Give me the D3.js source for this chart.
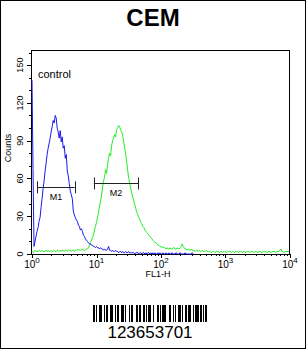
<!DOCTYPE html>
<html>
<head>
<meta charset="utf-8">
<script src="https://cdn.jsdelivr.net/npm/d3@7"></script>
<style>
  body { margin: 0; background: #fff; }
  svg { display: block; font-family: "Liberation Sans", Arial, sans-serif; }
</style>
</head>
<body>
<div id="chart"></div>
<script>
// channel counts, 64 channels per decade, channel 0 = 10^0
var blueCounts = [138,68,6,10,14,18,21,26,29,37,
  44,52,58,66,72,79,84,88,92,97,
  101,106,104,110,108,100,97,92,98,89,
  93,84,86,76,79,66,62,56,50,47,
  44,34,31,29,27,26,23,22,19,20,
  18,15,14,12,11,10,9,8,8,7,
  7,6,6,5,6,5,5,4,5,4,
  4,3,4,3,3,4,6,3,3,2,
  3,2,2,3,2,2,1,2,2,1,
  2,1,1,2,1,1,2,1,1,1,
  1,1,0,1,1,1,0,1,1,0,
  1,1,0,1,0,1,1,0,1,0,
  1,0,1,0,0,1,0,1,0,0,
  1,0,0,1,0,0,1,0,0,1,
  0,0,0,1,0,0,0,1,0,0,
  0,0,1,0,0,0,0,0,0,1,
  0];

var greenCounts = [2,1,2,3,2,2,2,3,2,2,
  3,2,2,2,3,2,3,2,2,3,
  2,2,3,2,2,3,3,2,3,2,
  3,3,2,3,3,2,3,3,3,2,
  3,3,2,3,3,3,4,3,3,3,
  4,3,3,
  3,4,4,5,
  7,9,11,13,15,19,22,25,29,33,
  38,42,47,53,58,61,67,64,71,76,
  80,78,86,90,92,95,93,99,100,102,
  101,98,97,94,89,84,79,73,66,60,
  56,52,48,45,42,39,36,33,31,29,
  27,25,24,22,21,
  19,18,17,16,15,14,13,
  12,11,10,9,9,8,7,
  7,6,6,5,6,5,5,4,5,4,4,5,4,4,5,
  5,4,4,5,4,4,5,6,8,6,5,4,4,3,4,
  3,3,4,3,3,3,2,3,3,2,3,2,2,3,2,2,2,3,2,2,
  2,2,1,2,2,2,1,2,2,2,
  1,2,2,1,2,2,2,1,2,2,
  2,2,1,2,2,1,2,2,2,1,
  2,2,2,1,2,2,1,2,2,2,
  1,2,2,2,1,2,2,2,1,2,
  2,2,1,2,2,2,2,1,2,2,
  2,1,2,2,2,2,1,2,2,2,
  3,4,2,2,1,2,2,2,2,2];

var yTicks = [0, 30, 60, 90, 120, 150];
var xTicks = [1, 10, 100, 1000, 10000];
var markerNames = ["M1", "M2"];
var markerLo = [1.2, 9.1];
var markerHi = [4.6, 44];
var markerY = [53, 56];
var barcodeDigits = "123653701";
var barcodeModules = "110100111001011001110010110011101000101100011011001101011100100011010111100011001010011101001101110010111101101011";

var W = 306, H = 349;
var plot = {left: 32, right: 290, top: 50, bottom: 254};

var svg = d3.select("#chart").append("svg")
  .attr("width", W).attr("height", H);

svg.append("rect")
  .attr("x", 0.5).attr("y", 0.5)
  .attr("width", W - 1).attr("height", H - 1)
  .attr("fill", "#fff").attr("stroke", "#000");

// title
svg.append("text")
  .attr("x", 153).attr("y", 26)
  .attr("text-anchor", "middle")
  .attr("font-size", 24).attr("font-weight", "bold")
  .text("CEM");

var x = d3.scaleLog().domain([1, 10000]).range([plot.left, plot.right]);
var y = d3.scaleLinear().domain([0, 162]).range([plot.bottom, plot.top]);

function chan(i){ return Math.pow(10, i / 64); }

//frame
svg.append("rect")
  .attr("x", plot.left - 0.5).attr("y", plot.top + 0.5)
  .attr("width", plot.right - plot.left).attr("height", plot.bottom - plot.top)
  .attr("fill", "none").attr("stroke", "#000");

// y axis ticks
var yMinor = d3.range(0, 161, 10);
svg.append("g").selectAll("line").data(yMinor).enter().append("line")
  .attr("x1", function(d){ return yTicks.indexOf(d) >= 0 ? plot.left - 5 : plot.left - 3; })
  .attr("x2", plot.left - 1)
  .attr("y1", function(d){ return Math.round(y(d)) + 0.5; })
  .attr("y2", function(d){ return Math.round(y(d)) + 0.5; })
  .attr("stroke", "#000");

svg.append("g").selectAll("text").data(yTicks).enter().append("text")
  .attr("transform", function(d){ return "translate(23," + y(d) + ") rotate(-90)"; })
  .attr("text-anchor", "middle")
  .attr("font-size", 9)
  .text(function(d){ return d; });

svg.append("text")
  .attr("transform", "translate(11,148) rotate(-90)")
  .attr("text-anchor", "middle")
  .attr("font-size", 9)
  .text("Counts");

// x axis minor ticks
var xMinor = [];
xTicks.slice(0, 4).forEach(function(t){
  for (var k = 1; k < 10; k++) xMinor.push(t * k);
});
xMinor.push(10000);
svg.append("g").selectAll("line").data(xMinor).enter().append("line")
  .attr("x1", function(d){ return Math.round(x(d)) + 0.5; })
  .attr("x2", function(d){ return Math.round(x(d)) + 0.5; })
  .attr("y1", plot.bottom)
  .attr("y2", function(d){ return xTicks.indexOf(d) >= 0 ? plot.bottom + 4 : plot.bottom + 2; })
  .attr("stroke", "#000");

var xl = svg.append("g").selectAll("text").data(xTicks).enter().append("text")
  .attr("x", function(d){ return x(d); })
  .attr("y", 268)
  .attr("text-anchor", "middle")
  .attr("font-size", 10);
xl.append("tspan").text("10");
xl.append("tspan").attr("dy", -5).attr("font-size", 8)
  .text(function(d){ return Math.round(Math.log10(d)); });

svg.append("text")
  .attr("x", 158).attr("y", 277)
  .attr("text-anchor", "middle")
  .attr("font-size", 9)
  .text("FL1-H");

svg.append("text")
  .attr("x", 38).attr("y", 78)
  .attr("font-size", 11)
  .text("control");

// histograms
var line = d3.line()
  .x(function(d, i){ return x(chan(i)); })
  .y(function(d){ return y(d); });

svg.append("path").datum(greenCounts)
  .attr("d", line)
  .attr("fill", "none").attr("stroke", "#22ee22").attr("stroke-width", 1);

svg.append("path").datum(blueCounts)
  .attr("d", line)
  .attr("fill", "none").attr("stroke", "#1a1aee").attr("stroke-width", 1);

// markers
var mk = svg.append("g").selectAll("g").data(markerNames).enter().append("g");
mk.append("line")
  .attr("x1", function(d, i){ return x(markerLo[i]); })
  .attr("x2", function(d, i){ return x(markerHi[i]); })
  .attr("y1", function(d, i){ return Math.round(y(markerY[i])) + 0.5; })
  .attr("y2", function(d, i){ return Math.round(y(markerY[i])) + 0.5; })
  .attr("stroke", "#222");
mk.append("line")
  .attr("x1", function(d, i){ return Math.round(x(markerLo[i])) + 0.5; })
  .attr("x2", function(d, i){ return Math.round(x(markerLo[i])) + 0.5; })
  .attr("y1", function(d, i){ return y(markerY[i]) - 6; })
  .attr("y2", function(d, i){ return y(markerY[i]) + 6; })
  .attr("stroke", "#222");
mk.append("line")
  .attr("x1", function(d, i){ return Math.round(x(markerHi[i])) + 0.5; })
  .attr("x2", function(d, i){ return Math.round(x(markerHi[i])) + 0.5; })
  .attr("y1", function(d, i){ return y(markerY[i]) - 6; })
  .attr("y2", function(d, i){ return y(markerY[i]) + 6; })
  .attr("stroke", "#222");
mk.append("text")
  .attr("x", function(d, i){ return (x(markerLo[i]) + x(markerHi[i])) / 2; })
  .attr("y", function(d, i){ return y(markerY[i]) + 13; })
  .attr("text-anchor", "middle")
  .attr("font-size", 9)
  .text(function(d){ return d; });

// barcode, 1px modules
var bars = barcodeModules.split("");
var bx = Math.round(150 - bars.length / 2);
svg.append("g").attr("shape-rendering", "crispEdges")
  .selectAll("rect").data(bars).enter().append("rect")
  .attr("x", function(d, i){ return bx + i; })
  .attr("y", 305)
  .attr("width", 1)
  .attr("height", 17)
  .attr("fill", function(d){ return d === "1" ? "#000" : "#fff"; });

svg.append("text")
  .attr("x", 150).attr("y", 338)
  .attr("text-anchor", "middle")
  .attr("font-size", 17)
  .text(barcodeDigits);
</script>
</body>
</html>
